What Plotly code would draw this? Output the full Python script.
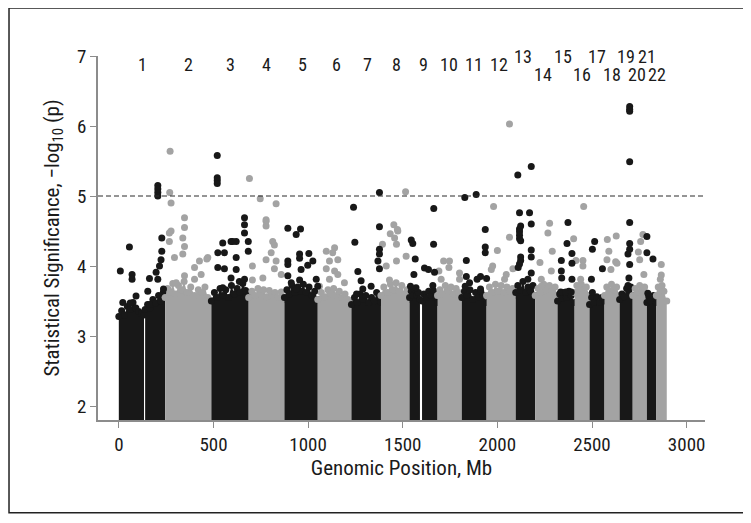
import plotly.graph_objects as go

BLACK = "#181818"
GRAY = "#a3a3a3"
FONT = "Roboto Condensed, DejaVu Sans Condensed, Liberation Sans Narrow, Arial Narrow, sans-serif"

# chromosome labels along the top
chrom_labels = [str(i) for i in range(1, 23)]
chrom_mid = [125, 368, 590, 782, 970, 1148, 1312, 1465, 1608, 1744, 1876,
             2008, 2134, 2240, 2346, 2445, 2528, 2607, 2680, 2736, 2790, 2845]
chrom_label_y = [6.88] * 12 + [6.99, 6.73, 6.99, 6.73, 6.99, 6.73, 6.99, 6.73, 6.99, 6.73]

# dense part of each chromosome: positions (Mb) and top of the cloud
band_chrom = [1, 1, 2, 3, 4, 5, 6, 7, 8, 9, 9, 10, 11, 12, 13, 14, 15, 16, 17, 18, 19, 20, 21, 22]
band_x = [
    [0, 15, 30, 45, 60, 75, 90, 105, 120, 133],
    [139, 152, 165, 180, 195, 210, 222, 235, 245],
    [245, 258, 270, 285, 300, 315, 330, 345, 360, 380, 400, 420, 440, 455, 470, 489],
    [489, 505, 520, 535, 550, 565, 580, 595, 610, 625, 640, 655, 670, 686],
    [686, 703, 720, 735, 750, 765, 780, 795, 810, 825, 840, 858, 875],
    [875, 888, 900, 915, 930, 945, 960, 975, 990, 1005, 1020, 1035, 1051],
    [1051, 1070, 1090, 1105, 1120, 1135, 1150, 1165, 1180, 1195, 1210, 1229],
    [1229, 1245, 1260, 1275, 1290, 1305, 1320, 1335, 1350, 1362, 1375, 1385],
    [1385, 1400, 1420, 1435, 1450, 1465, 1480, 1495, 1510, 1523, 1536],
    [1536, 1545, 1555, 1565, 1575, 1583, 1591],
    [1602, 1612, 1625, 1637, 1650, 1662, 1674, 1684],
    [1684, 1697, 1710, 1725, 1740, 1755, 1770, 1782, 1795, 1812],
    [1812, 1826, 1840, 1855, 1870, 1885, 1900, 1912, 1925, 1943],
    [1943, 1958, 1975, 1990, 2005, 2020, 2035, 2050, 2065, 2080, 2097],
    [2097, 2108, 2120, 2135, 2150, 2162, 2175, 2188, 2200],
    [2200, 2215, 2230, 2245, 2260, 2275, 2290, 2305, 2318],
    [2318, 2329, 2340, 2352, 2365, 2378, 2390, 2408],
    [2408, 2420, 2430, 2443, 2455, 2470, 2487],
    [2487, 2498, 2510, 2525, 2540, 2553, 2566],
    [2566, 2578, 2590, 2603, 2615, 2630, 2646],
    [2646, 2658, 2670, 2683, 2695, 2705, 2715],
    [2715, 2728, 2740, 2752, 2765, 2778, 2790],
    [2790, 2800, 2810, 2825, 2840],
    [2840, 2850, 2860, 2870, 2880, 2895],
]
band_y = [
    [3.28, 3.36, 3.30, 3.42, 3.38, 3.48, 3.40, 3.35, 3.32, 3.30],
    [3.38, 3.45, 3.40, 3.52, 3.47, 3.58, 3.50, 3.62, 3.55],
    [3.55, 3.68, 3.62, 3.75, 3.60, 3.72, 3.66, 3.78, 3.62, 3.70, 3.58, 3.66, 3.62, 3.70, 3.55, 3.50],
    [3.50, 3.62, 3.55, 3.68, 3.58, 3.66, 3.55, 3.72, 3.60, 3.68, 3.62, 3.75, 3.65, 3.58],
    [3.55, 3.64, 3.58, 3.68, 3.60, 3.66, 3.56, 3.65, 3.58, 3.62, 3.55, 3.63, 3.52],
    [3.55, 3.66, 3.60, 3.72, 3.62, 3.70, 3.64, 3.74, 3.62, 3.70, 3.58, 3.64, 3.52],
    [3.52, 3.62, 3.56, 3.66, 3.60, 3.68, 3.58, 3.64, 3.55, 3.60, 3.52, 3.48],
    [3.45, 3.55, 3.48, 3.60, 3.52, 3.58, 3.48, 3.55, 3.50, 3.62, 3.55, 3.48],
    [3.58, 3.70, 3.62, 3.74, 3.66, 3.76, 3.64, 3.72, 3.60, 3.66, 3.52],
    [3.55, 3.64, 3.58, 3.66, 3.58, 3.62, 3.52],
    [3.50, 3.60, 3.55, 3.64, 3.58, 3.65, 3.55, 3.48],
    [3.58, 3.66, 3.60, 3.72, 3.64, 3.70, 3.60, 3.68, 3.62, 3.56],
    [3.55, 3.64, 3.58, 3.66, 3.52, 3.62, 3.56, 3.64, 3.58, 3.48],
    [3.58, 3.70, 3.62, 3.74, 3.64, 3.72, 3.62, 3.70, 3.64, 3.68, 3.58],
    [3.62, 3.72, 3.65, 3.78, 3.62, 3.70, 3.64, 3.72, 3.58],
    [3.58, 3.68, 3.62, 3.74, 3.66, 3.72, 3.64, 3.70, 3.58],
    [3.50, 3.60, 3.54, 3.62, 3.55, 3.64, 3.58, 3.48],
    [3.62, 3.72, 3.66, 3.74, 3.66, 3.70, 3.58],
    [3.45, 3.55, 3.48, 3.56, 3.48, 3.55, 3.50],
    [3.58, 3.70, 3.64, 3.74, 3.66, 3.70, 3.58],
    [3.52, 3.60, 3.56, 3.68, 3.62, 3.70, 3.58],
    [3.58, 3.68, 3.62, 3.72, 3.64, 3.70, 3.58],
    [3.48, 3.56, 3.50, 3.58, 3.48],
    [3.58, 3.70, 3.64, 3.72, 3.64, 3.50],
]

# scattered SNPs above the dense cloud, odd chromosomes (black)
odd_x = [8, 56, 70, 70, 91, 21, 60, 162, 153, 162, 197, 215, 223, 227, 227, 206, 206, 206, 206, 206, 236,
         520, 520, 520, 520, 664, 664, 664, 684, 684, 549, 593, 620, 523, 558, 620, 523, 558, 620, 549, 593, 637, 664, 602,
         893, 937, 960, 893, 893, 955, 955, 1004, 1025, 963, 998, 893, 911, 955, 1043, 1051, 937,
         1240, 1247, 1263, 1280, 1377, 1377, 1377, 1377, 1369, 1377, 1333, 1289, 1256,
         1545, 1553, 1566, 1559, 1541, 1570, 1664, 1663, 1615, 1636, 1668, 1659,
         1828, 1888, 1836, 1936, 1936, 1936, 1836, 1911, 1893, 1853, 1830, 1911, 1943,
         2108, 2179, 2117, 2170, 2179, 2123, 2117, 2117, 2117, 2117, 2123, 2179, 2179, 2123, 2123, 2117, 2110, 2179, 2161,
         2373, 2368, 2394, 2338, 2394, 2338, 2340, 2394, 2335, 2362, 2390,
         2514, 2502, 2555, 2497, 2502,
         2699, 2699, 2699, 2699, 2699, 2699, 2699, 2690, 2699, 2695, 2690,
         2790, 2790, 2822, 2795]
odd_y = [3.93, 4.27, 3.88, 3.81, 3.57, 3.48, 3.47, 3.82, 3.64, 3.45, 3.91, 4.00, 4.09, 4.21, 4.40, 5.15, 5.10, 5.05, 5.00, 3.81, 3.67,
         5.58, 5.26, 5.22, 5.18, 4.69, 4.59, 4.47, 4.35, 4.21, 4.33, 4.35, 4.35, 4.19, 4.19, 4.12, 3.98, 3.96, 3.95, 3.69, 3.83, 3.78, 3.81, 4.35,
         4.54, 4.45, 4.53, 4.07, 4.02, 4.17, 4.11, 4.18, 4.07, 3.95, 4.01, 3.86, 3.76, 3.80, 3.81, 3.71, 3.67,
         4.84, 4.34, 3.92, 3.79, 5.05, 4.56, 4.24, 4.17, 4.07, 3.96, 3.71, 3.67, 3.60,
         4.37, 4.32, 4.10, 3.88, 3.71, 3.69, 4.82, 4.31, 3.97, 3.95, 3.91, 3.72,
         4.98, 5.02, 4.08, 4.52, 4.27, 4.19, 3.85, 3.85, 3.81, 3.76, 3.71, 3.67, 3.82,
         5.30, 5.42, 4.76, 4.76, 4.60, 4.57, 4.53, 4.49, 4.44, 4.39, 4.36, 4.23, 4.13, 4.13, 4.08, 4.03, 3.98, 3.90, 3.81,
         4.62, 4.32, 4.18, 4.08, 4.04, 3.93, 3.83, 3.81, 3.63, 3.63, 3.63,
         4.35, 4.24, 3.96, 3.81, 3.62,
         6.28, 6.24, 6.21, 5.49, 4.62, 4.32, 4.24, 4.17, 4.02, 3.83, 3.72,
         4.42, 4.19, 4.10, 3.61]

# scattered SNPs above the dense cloud, even chromosomes (gray)
even_x = [271, 269, 276, 347, 347, 276, 338, 347, 338, 267, 294, 400, 426, 470, 435, 347, 303, 400, 267, 465,
          690, 747, 831, 778, 778, 813, 822, 805, 778, 831, 761, 822, 858, 706, 706, 778,
          1096, 1140, 1113, 1157, 1096, 1140, 1157, 1113, 1192, 1060, 1130,
          1515, 1453, 1474, 1434, 1467, 1467, 1518, 1393, 1457, 1413, 1430, 1472,
          1716, 1744, 1691, 1800, 1703, 1800, 1747,
          2064, 1980, 2000, 2064, 1968, 1975, 2082, 2038, 2047,
          2276, 2267, 2290, 2232, 2232, 2285, 2225,
          2456, 2403, 2452, 2452, 2415, 2440,
          2581, 2628, 2579, 2625, 2589, 2632, 2600,
          2757, 2769, 2752, 2774, 2745,
          2861, 2866, 2866]
even_y = [5.64, 5.05, 4.90, 4.69, 4.55, 4.50, 4.40, 4.28, 4.17, 4.35, 4.12, 3.98, 4.07, 4.12, 3.88, 3.86, 3.76, 3.81, 4.47, 4.10,
          5.25, 4.96, 4.89, 4.64, 4.57, 4.35, 4.30, 4.19, 4.09, 4.07, 3.83, 3.96, 3.88, 4.00, 3.80, 4.66,
          4.21, 4.26, 4.07, 4.09, 3.96, 3.93, 3.88, 3.81, 3.76, 3.71, 4.19,
          5.06, 4.59, 4.50, 4.46, 4.31, 4.07, 4.14, 4.31, 4.40, 4.00, 3.80, 4.52,
          4.07, 3.98, 3.93, 3.90, 3.81, 3.81, 4.07,
          6.03, 4.85, 4.22, 4.41, 3.95, 4.00, 3.96, 3.81, 3.88,
          4.61, 4.47, 4.21, 3.81, 3.71, 3.93, 4.05,
          4.85, 4.39, 4.08, 4.00, 4.08, 3.81,
          4.38, 4.43, 4.09, 4.06, 4.21, 4.04, 3.95,
          4.35, 4.45, 4.09, 3.88, 4.20,
          3.81, 4.02, 3.87]

threshold = 5

fig = go.Figure()

for chrom, xs, ys in zip(band_chrom, band_x, band_y):
    color = BLACK if chrom % 2 else GRAY
    fig.add_trace(go.Scatter(
        x=xs, y=ys, mode="lines+markers", fill="tozeroy",
        fillcolor=color, line=dict(width=0, color=color),
        marker=dict(size=7, color=color), hoverinfo="skip",
    ))

fig.add_trace(go.Scatter(x=even_x, y=even_y, mode="markers",
                         marker=dict(size=7, color=GRAY), hoverinfo="skip"))
fig.add_trace(go.Scatter(x=odd_x, y=odd_y, mode="markers",
                         marker=dict(size=7, color=BLACK), hoverinfo="skip"))

fig.add_hline(y=threshold, line=dict(color="#2a2a2a", width=1, dash="5px,3px"))

for lab, xm, ym in zip(chrom_labels, chrom_mid, chrom_label_y):
    fig.add_annotation(x=xm, y=ym, text=lab, showarrow=False,
                       font=dict(size=18, color="#1a1a1a", family=FONT))

# frame around the whole figure
fig.add_shape(type="rect", xref="paper", yref="paper",
              x0=-0.1466, x1=1.068, y0=-0.255, y1=1.132,
              line=dict(color="#222222", width=1.5))

# the page adds an 8 px body margin, so the figure is 8 px smaller
fig.update_layout(
    width=743, height=515,
    margin=dict(l=90, r=46, t=48, b=103),
    plot_bgcolor="white", paper_bgcolor="white",
    showlegend=False,
    font=dict(family=FONT, size=19, color="#1a1a1a"),
)
fig.update_xaxes(
    range=[-110, 3097], tickvals=[0, 500, 1000, 1500, 2000, 2500, 3000],
    showline=True, linecolor="#8c8c8c", linewidth=1.5,
    ticks="outside", ticklen=6, tickcolor="#8c8c8c",
    showgrid=False, zeroline=False, automargin=False,
    title=dict(text="Genomic Position, Mb", standoff=6, font=dict(size=21)),
)
fig.update_yaxes(
    range=[1.8, 7.0], tickvals=[2, 3, 4, 5, 6, 7],
    showline=True, linecolor="#8c8c8c", linewidth=1.5,
    ticks="outside", ticklen=6, tickcolor="#8c8c8c",
    showgrid=False, zeroline=False, automargin=False,
    title=dict(text="Statistical Significance, \u2212log<sub>10</sub> (p)", standoff=12, font=dict(size=21)),
)

fig.write_html("out.html")
